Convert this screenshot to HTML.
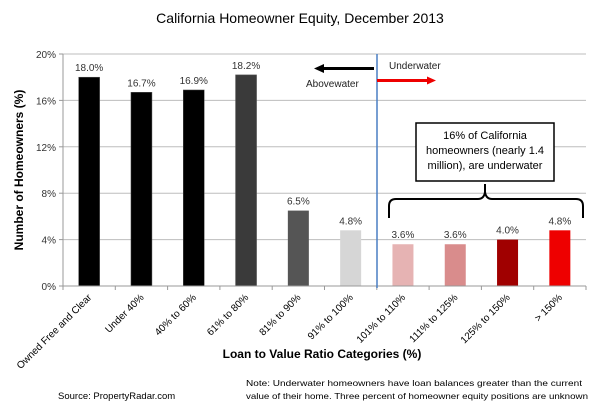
<!DOCTYPE html>
<html><head><meta charset="utf-8"><style>
body{margin:0;background:#fff}
svg{font-family:"Liberation Sans",sans-serif;display:block}
</style></head><body>
<svg id="c" width="600" height="408" viewBox="0 0 600 408" xmlns="http://www.w3.org/2000/svg">
<text x="300" y="23" text-anchor="middle" font-size="14" fill="#000">California Homeowner Equity, December 2013</text>
<g id="grid"></g>
<g id="bars"></g>
<g id="axes"></g>
<text transform="translate(23,170) rotate(-90)" text-anchor="middle" font-size="12" font-weight="bold" fill="#000">Number of Homeowners (%)</text>
<text x="322" y="358" text-anchor="middle" font-size="12" font-weight="bold" fill="#000">Loan to Value Ratio Categories (%)</text>
<line x1="377" y1="54" x2="377" y2="288" stroke="#4a7fc4" stroke-width="1.5"/>
<g><line x1="374" y1="68.5" x2="322" y2="68.5" stroke="#000" stroke-width="3"/><polygon points="314,68.5 324,64 324,73" fill="#000"/></g>
<text x="306" y="87" font-size="10" fill="#222">Abovewater</text>
<text x="389" y="69" font-size="10" fill="#222">Underwater</text>
<g><line x1="377" y1="80.5" x2="428" y2="80.5" stroke="#e00" stroke-width="3"/><polygon points="436,80.5 427,76.5 427,84.5" fill="#e00"/></g>
<rect x="416" y="123" width="138" height="58" fill="#fff" stroke="#000" stroke-width="1.5"/>
<text font-size="11" fill="#000" text-anchor="middle"><tspan x="485" y="139">16% of California</tspan><tspan x="485" y="154">homeowners (nearly 1.4</tspan><tspan x="485" y="169">million), are underwater</tspan></text>
<path d="M389,218 L389,206 Q389,199 396,199 L478,199 Q484,199 485,192 L485,184 L485,192 Q486,199 492,199 L576,199 Q583,199 583,206 L583,218" fill="none" stroke="#000" stroke-width="2"/>
<text x="58" y="399" font-size="9.5" fill="#000">Source: PropertyRadar.com</text>
<text x="246" y="386" font-size="8.5" fill="#000" textLength="336" lengthAdjust="spacingAndGlyphs">Note: Underwater homeowners have loan balances greater than the current</text>
<text x="246" y="399" font-size="8.5" fill="#000" textLength="342" lengthAdjust="spacingAndGlyphs">value of their home. Three percent of homeowner equity positions are unknown</text>
</svg>
<script>
const categories=["Owned Free and Clear","Under 40%","40% to 60%","61% to 80%","81% to 90%","91% to 100%","101% to 110%","111% to 125%","125% to 150%","> 150%"];
const values=[18.0,16.7,16.9,18.2,6.5,4.8,3.6,3.6,4.0,4.8];
const valueLabels=["18.0%","16.7%","16.9%","18.2%","6.5%","4.8%","3.6%","3.6%","4.0%","4.8%"];
const colors=["#000","#000","#000","#3a3a3a","#555","#d6d6d6","#e6b3b3","#d98c8c","#a00000","#ee0000"];
const yTicks=[0,4,8,12,16,20];
const ns="http://www.w3.org/2000/svg";
const X0=63,X1=586,Y0=286,Y1=54,YMAX=20;
const bw=(X1-X0)/categories.length;
const y=v=>Y0-(v/YMAX)*(Y0-Y1);
const xc=i=>X0+bw*(i+0.5);
function mk(t,a,p){const e=document.createElementNS(ns,t);for(const k in a)e.setAttribute(k,a[k]);p.appendChild(e);return e;}
const grid=document.getElementById('grid'),bars=document.getElementById('bars'),axes=document.getElementById('axes');
yTicks.forEach(t=>{
 if(t>0){const g=mk('line',{x1:X0,x2:X1,y1:y(t),y2:y(t),stroke:'#bdbdbd','stroke-width':1},grid);
 
 }
 const l=mk('text',{x:X0-7,y:y(t)+4,'text-anchor':'end','font-size':10,fill:'#333'},axes);
 l.textContent=t+'%';
 
 
 mk('line',{x1:X0-4,x2:X0,y1:y(t),y2:y(t),stroke:'#999'},axes);
});
mk('line',{x1:X0,x2:X0,y1:Y1,y2:Y0,stroke:'#999'},axes);
mk('line',{x1:X0,x2:X1,y1:Y0,y2:Y0,stroke:'#999'},axes);
for(let i=0;i<=categories.length;i++)mk('line',{x1:X0+bw*i,x2:X0+bw*i,y1:Y0,y2:Y0+4,stroke:'#999'},axes);
values.forEach((v,i)=>{
 const r=mk('rect',{x:xc(i)-10.5,y:y(v),width:21,height:Y0-y(v),fill:colors[i],stroke:i<4?'#555':'none','stroke-width':0.5},bars);
 
 
 const t=mk('text',{x:xc(i),y:y(v)-6,'text-anchor':'middle','font-size':10,fill:'#333'},bars);
 t.textContent=valueLabels[i];
 
 
 const c=mk('text',{transform:`translate(${xc(i)+3},${Y0+12}) rotate(-45)`,'text-anchor':'end','font-size':10,fill:'#000'},axes);
 c.textContent=categories[i];
 
 
});
</script>
</body></html>
